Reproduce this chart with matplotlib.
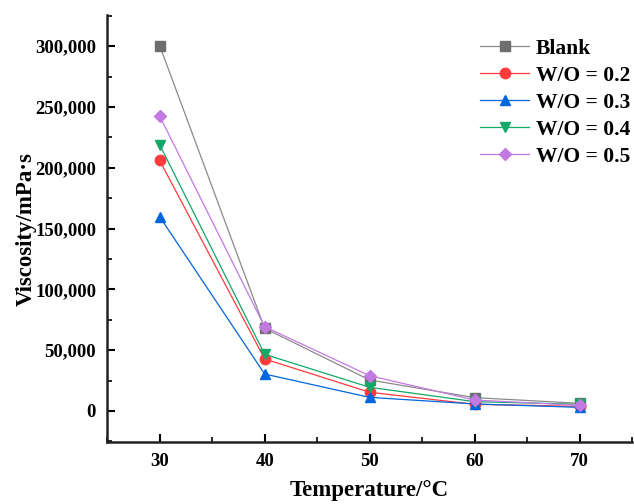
import matplotlib
matplotlib.use("Agg")
import matplotlib.pyplot as plt
from matplotlib.ticker import FuncFormatter, MultipleLocator

plt.rcParams['font.family'] = ['Liberation Serif', 'DejaVu Serif']
plt.rcParams['font.weight'] = 'bold'

# data
temps = [30, 40, 50, 60, 70]
blank = [300500, 68000, 25500, 11000, 6300]
wo_02 = [206000, 42800, 15400, 5500, 3800]
wo_03 = [159800, 30400, 11200, 5800, 3000]
wo_04 = [219000, 46600, 19500, 7700, 5500]
wo_05 = [242500, 69300, 29000, 9000, 4700]

series = [
    ("Blank", blank, "s", "#6e6e6e", "#8a8a8a"),
    ("W/O = 0.2", wo_02, "o", "#ff3b3b", "#ff3b3b"),
    ("W/O = 0.3", wo_03, "^", "#0066dd", "#0066dd"),
    ("W/O = 0.4", wo_04, "v", "#12a868", "#12a868"),
    ("W/O = 0.5", wo_05, "D", "#c27ae2", "#c27ae2"),
]

fig = plt.figure(figsize=(6.34, 5.04), dpi=100)
ax = fig.add_axes([0.169, 0.123, 0.828, 0.847])

for name, vals, mk, mcol, lcol in series:
    ax.plot(temps, vals, color=lcol, lw=0.9, marker=mk, markersize=7.5 if mk != "D" else 6.5,
            markerfacecolor=mcol, markeredgecolor=mcol, label=name)

ax.set_xlim(25, 75)
ax.set_ylim(-25500, 325500)
ax.xaxis.set_major_locator(MultipleLocator(10))
ax.xaxis.set_minor_locator(MultipleLocator(5))
ax.yaxis.set_major_locator(MultipleLocator(50000))
ax.yaxis.set_minor_locator(MultipleLocator(25000))
ax.yaxis.set_major_formatter(FuncFormatter(lambda v, p: f"{int(v):,}"))

for s in ["top", "right"]:
    ax.spines[s].set_visible(False)
for s in ["left", "bottom"]:
    ax.spines[s].set_linewidth(1.8)
    ax.spines[s].set_color("#222222")

ax.tick_params(axis='both', which='major', direction='in', length=6, width=1.5, labelsize=13.5, pad=8)
ax.tick_params(axis='both', which='minor', direction='in', length=3.5, width=1.2)

ax.set_xlabel("Temperature/°C", fontsize=16.5, fontweight='bold', labelpad=7)
ax.set_ylabel("Viscosity/mPa·s", fontsize=16.5, fontweight='bold', labelpad=-1)

leg = ax.legend(loc="upper right", frameon=False, fontsize=15.5, handlelength=2.3,
                handletextpad=0.3, labelspacing=0.32, borderaxespad=0.2,
                bbox_to_anchor=(1.021, 0.975))

fig.savefig("out.png", dpi=100)
